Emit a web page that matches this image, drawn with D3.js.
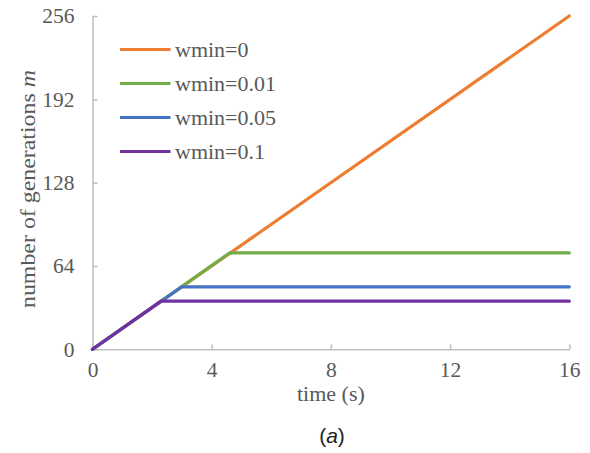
<!DOCTYPE html>
<html><head><meta charset="utf-8">
<script src="https://cdn.jsdelivr.net/npm/d3@7"></script>
<style>body{margin:0;background:#fff}</style>
</head><body>
<svg id="chart" width="590" height="453"></svg>
<script>
const seriesNames = ["wmin=0","wmin=0.01","wmin=0.05","wmin=0.1"];
const seriesColors = ["#ED7D31","#70AD47","#4472C4","#7030A0"];
const timeOrange = [0,16];      const genOrange = [0,256];
const timeGreen  = [0,4.6,16];  const genGreen  = [0,74,74];
const timeBlue   = [0,3.0,16];  const genBlue   = [0,48,48];
const timePurple = [0,2.3,16];  const genPurple = [0,37,37];
const xTicks = [0,4,8,12,16];
const yTicks = [0,64,128,192,256];

const series = [
  {name: seriesNames[0], color: seriesColors[0], t: timeOrange, g: genOrange},
  {name: seriesNames[1], color: seriesColors[1], t: timeGreen,  g: genGreen},
  {name: seriesNames[2], color: seriesColors[2], t: timeBlue,   g: genBlue},
  {name: seriesNames[3], color: seriesColors[3], t: timePurple, g: genPurple}
];

const svg = d3.select("#chart");
const x = d3.scaleLinear().domain([0,16]).range([92.5,569.3]);
const y = d3.scaleLinear().domain([0,256]).range([349.3,16]);
const axisColor = "#bfbfbf", textColor = "#595959";
const serif = "Liberation Serif";

// x axis
const gx = svg.append("g").attr("transform",`translate(0,${y(0)})`)
  .call(d3.axisBottom(x).tickValues(xTicks).tickSizeInner(-5).tickSizeOuter(0).tickPadding(12.5));
gx.attr("font-family",serif);
gx.select(".domain").attr("stroke",axisColor).attr("stroke-width",1.5);
gx.selectAll(".tick line").attr("stroke",axisColor).attr("stroke-width",1.5);
gx.selectAll(".tick text").attr("fill",textColor).attr("font-family",serif).attr("font-size",21.5);

// y axis
const gy = svg.append("g").attr("transform",`translate(${x(0)},0)`)
  .call(d3.axisLeft(y).tickValues(yTicks).tickSizeInner(-5).tickSizeOuter(0).tickPadding(18));
gy.attr("font-family",serif);
gy.select(".domain").attr("stroke",axisColor).attr("stroke-width",1.5);
gy.selectAll(".tick line").attr("stroke",axisColor).attr("stroke-width",1.5);
gy.selectAll(".tick text").attr("fill",textColor).attr("font-family",serif).attr("font-size",21.5);

// lines
const line = d3.line().x(d=>x(d[0])).y(d=>y(d[1]));
series.forEach(s=>{
  svg.append("path").datum(s.t.map((t,i)=>[t,s.g[i]]))
    .attr("d",line).attr("fill","none").attr("stroke",s.color)
    .attr("stroke-width",3.2).attr("stroke-linejoin","round").attr("stroke-linecap","round");
});

// legend
const leg = svg.append("g");
series.forEach((s,i)=>{
  const ly = 49.5 + i*34;
  leg.append("line").attr("x1",120).attr("x2",170.5).attr("y1",ly).attr("y2",ly)
    .attr("stroke",s.color).attr("stroke-width",3.2);
  leg.append("text").attr("x",175).attr("y",ly).attr("dy","0.35em")
    .attr("fill",textColor).attr("font-family",serif).attr("font-size",22).text(s.name);
});

// axis titles
svg.append("text").attr("x",x(8)).attr("y",393).attr("dy","0.35em").attr("text-anchor","middle")
  .attr("fill",textColor).attr("font-family",serif).attr("font-size",22).text("time (s)");
const yl = svg.append("text").attr("transform","translate(27.5,189) rotate(-90)")
  .attr("text-anchor","middle").attr("dy","0.35em")
  .attr("textLength",238).attr("lengthAdjust","spacingAndGlyphs")
  .attr("fill",textColor).attr("font-family",serif).attr("font-size",21);
yl.append("tspan").text("number of generations ");
yl.append("tspan").attr("font-style","italic").text("m");

svg.append("text").attr("x",332).attr("y",436).attr("dy","0.35em").attr("text-anchor","middle")
  .attr("fill","#222").attr("font-family","Liberation Sans").attr("font-size",21)
  .html("(<tspan font-style='italic'>a</tspan>)");
</script>
</body></html>
